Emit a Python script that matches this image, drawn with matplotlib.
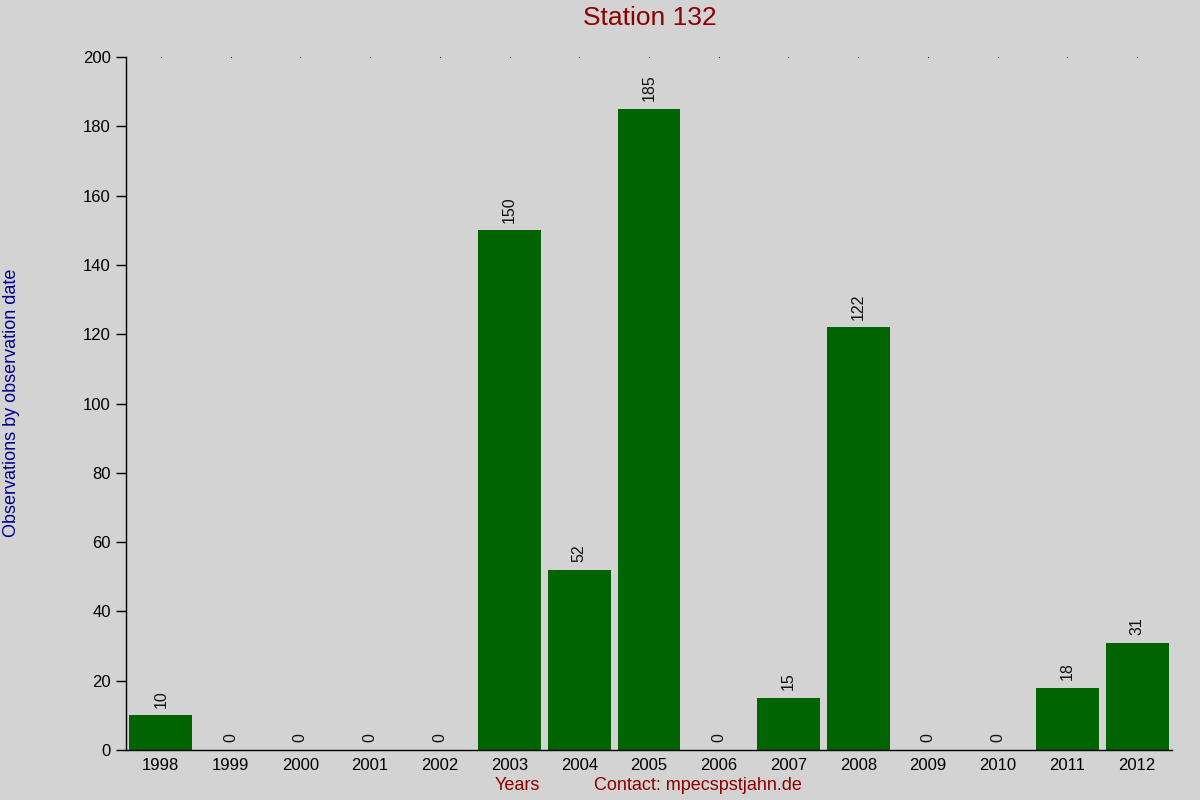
import matplotlib
matplotlib.use("Agg")
import matplotlib.pyplot as plt

YEARS = ["1998", "1999", "2000", "2001", "2002", "2003", "2004", "2005",
         "2006", "2007", "2008", "2009", "2010", "2011", "2012"]
COUNTS = [10, 0, 0, 0, 0, 150, 52, 185, 0, 15, 122, 0, 0, 18, 31]

BG = "#d3d3d3"
plt.rcParams["font.family"] = ["Liberation Sans", "DejaVu Sans"]

fig = plt.figure(figsize=(12, 8), dpi=100, facecolor=BG)
ax = fig.add_axes([126 / 1200, 50 / 800, (1172 - 126) / 1200, (750 - 57) / 800])
ax.set_facecolor(BG)

x = list(range(len(YEARS)))
ax.bar(x, COUNTS, width=0.9, color="#006400")

for xi, v in zip(x, COUNTS):
    ax.annotate(str(v), (xi, v), xytext=(0, 5.5), textcoords="offset points",
                rotation=90, ha="center", va="bottom", fontsize=11.5, color="#111111")

ax.set_xlim(-0.5, len(YEARS) - 0.5)
ax.set_ylim(0, 200)
ax.set_yticks(range(0, 201, 20))
ax.set_xticks(x)
ax.set_xticklabels(YEARS)
ax.tick_params(axis="y", length=7, width=1, labelsize=12, pad=4)
ax.tick_params(axis="x", length=0, labelsize=12, pad=6)

# tiny marks along the top edge
for xi in x:
    ax.plot([xi], [200], marker="s", markersize=0.4, color="black",
            markeredgewidth=0.4, clip_on=False)

for s in ["top", "right"]:
    ax.spines[s].set_visible(False)
ax.spines["left"].set_linewidth(1)
ax.spines["bottom"].set_linewidth(1)

fig.text(650 / 1200, 1 - 18 / 800, "Station 132", color="#8b0000",
         fontsize=19, ha="center", va="center")
fig.text(12 / 1200, 1 - 403 / 800, "Observations by observation date",
         color="#00008b", fontsize=13, rotation=90, ha="center", va="center")
fig.text(517 / 1200, 1 - 786 / 800, "Years", color="#8b0000",
         fontsize=13, ha="center", va="center")
fig.text(698 / 1200, 1 - 786 / 800, "Contact: mpecspstjahn.de", color="#8b0000",
         fontsize=13, ha="center", va="center")

fig.savefig("out.png", dpi=100, facecolor=BG)
